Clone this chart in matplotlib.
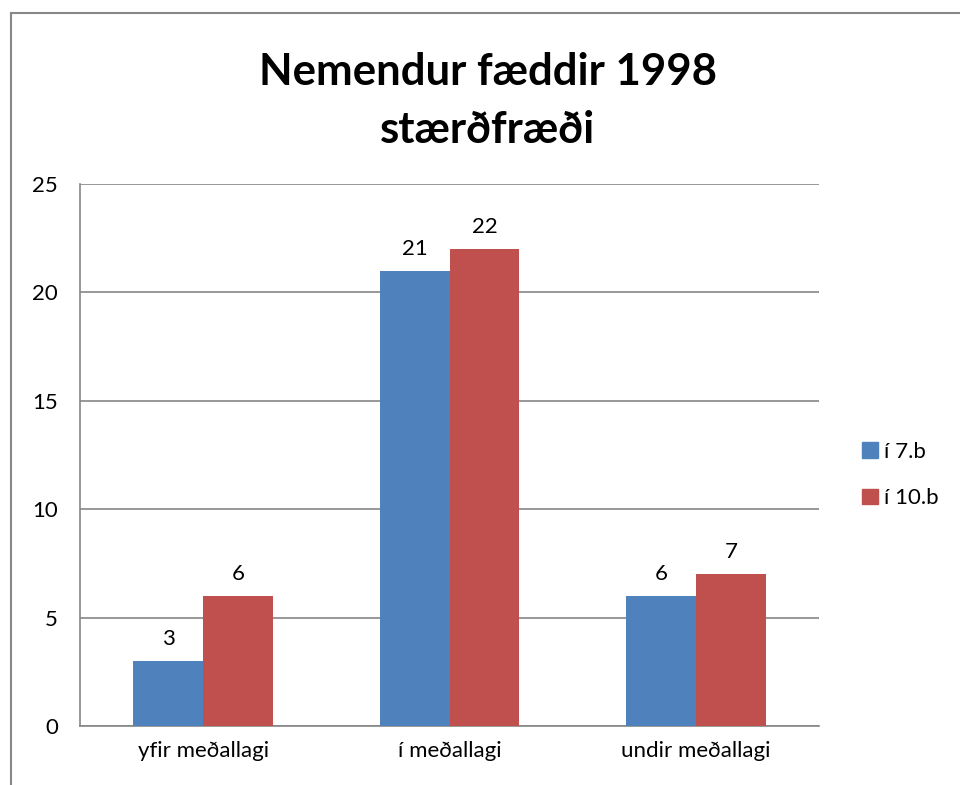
import matplotlib.pyplot as plt
from matplotlib.lines import Line2D
from matplotlib.patches import Patch
import numpy as np

plt.rcParams["font.family"] = ["Lato", "DejaVu Sans"]

categories = ["yfir meðallagi", "í meðallagi", "undir meðallagi"]
series_names = ["í 7.b", "í 10.b"]
vals_7b = [3, 21, 6]
vals_10b = [6, 22, 7]
yticks = [0, 5, 10, 15, 20, 25]

BLUE = "#4F81BD"
RED = "#C0504D"
GRID = "#868686"
FS = 16

W, H = 960, 785
fig = plt.figure(figsize=(9.6, 7.85), dpi=100)
ax = fig.add_axes([80 / W, 1 - 726 / H, (819 - 80) / W, (726 - 184) / H])

x = np.arange(len(categories))
bw = 70 / 246.5
b1 = ax.bar(x - bw / 2, vals_7b, bw, color=BLUE, label=series_names[0], zorder=3)
b2 = ax.bar(x + bw / 2, vals_10b, bw, color=RED, label=series_names[1], zorder=3)
for bars in (b1, b2):
    for r in bars:
        ax.text(r.get_x() + r.get_width() / 2, r.get_height() + 0.55, f"{int(r.get_height())}",
                ha="center", va="bottom", fontsize=FS)

ax.set_xlim(-0.5, 2.5)
ax.set_ylim(0, 25)
ax.set_yticks(yticks)
ax.set_xticks(x)
ax.set_xticklabels(categories, fontsize=FS)
ax.tick_params(axis="y", labelsize=FS, length=0, pad=16)
ax.tick_params(axis="x", length=0, pad=11)
ax.grid(axis="y", color=GRID, lw=1.2, zorder=0)
for s in ("top", "right"):
    ax.spines[s].set_visible(False)
ax.spines["left"].set_color(GRID)
ax.spines["bottom"].set_color(GRID)
ax.spines["left"].set_linewidth(1.2)
ax.spines["bottom"].set_linewidth(1.2)

handles = [Patch(color=BLUE), Patch(color=RED)]
fig.legend(handles, series_names, loc="center left", bbox_to_anchor=(842 / W, 1 - 475 / H),
           frameon=False, fontsize=FS, handlelength=0.7, handleheight=0.7,
           handletextpad=0.3, labelspacing=1.2)

fig.text(488 / W, 1 - 101 / H, "Nemendur fæddir 1998\nstærðfræði",
         ha="center", va="center", fontsize=31.5, fontweight="bold", linespacing=1.55)

# outer chart frame (left and top visible)
fig.add_artist(Line2D([11 / W, 11 / W], [0, 1 - 13 / H], color="#888888", lw=1.5))
fig.add_artist(Line2D([11 / W, 1], [1 - 13 / H, 1 - 13 / H], color="#888888", lw=1.5))

fig.savefig("out.png", dpi=100, facecolor="white")
